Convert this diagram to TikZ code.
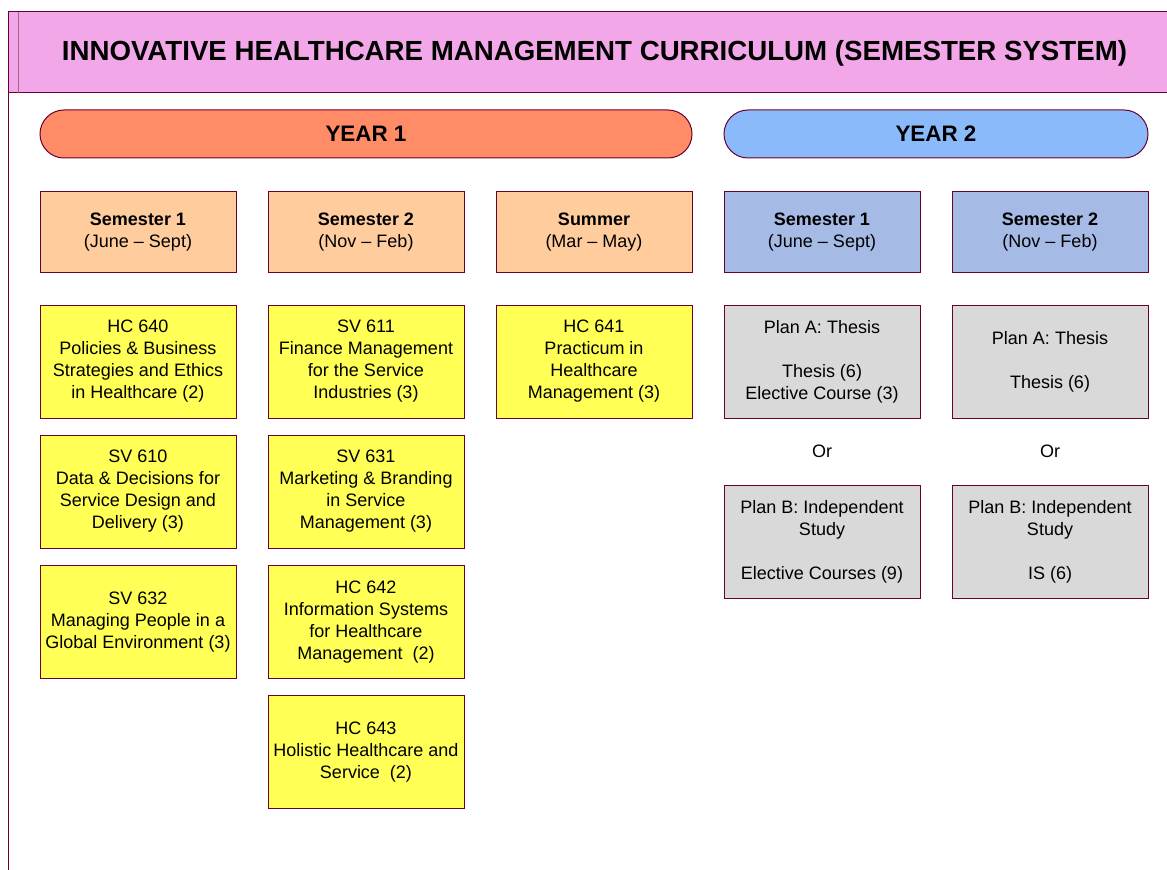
\documentclass[tikz,border=0pt]{standalone}
\usepackage{fontspec}
\setmainfont{Liberation Sans}
\usetikzlibrary{positioning}
\definecolor{rim}{HTML}{6A0030}
\definecolor{titlepink}{HTML}{F2A8E8}
\definecolor{yearorange}{HTML}{FF8C66}
\definecolor{yearblue}{HTML}{8ABAFA}
\definecolor{semorange}{HTML}{FFCC9E}
\definecolor{semblue}{HTML}{A6BAE6}
\definecolor{courseyellow}{HTML}{FFFF55}
\definecolor{plangray}{HTML}{D9D9D9}
\tikzset{
    box/.style={draw=rim, line width=0.75pt, minimum width=147pt, minimum height=84.75pt,
        inner sep=0pt, align=center, font=\fontsize{13.5}{16.5}\selectfont},
    course/.style={box, fill=courseyellow},
    plan/.style={box, fill=plangray},
    sem/.style={box, minimum height=60.75pt},
    year/.style={draw=rim, line width=0.75pt, rounded corners=18pt, minimum height=36pt,
        inner sep=0pt, font=\fontsize{16.8}{18}\selectfont\bfseries}
}

\begin{document}
\begin{tikzpicture}[x=0.75pt, y=-0.75pt]
    \useasboundingbox (0, 0) rectangle (1167, 870);
    % title bar
    \fill[titlepink] (8, 12) rectangle (1167, 93);
    \draw[rim, line width=0.75pt] (1167, 12) -- (8, 12) -- (8, 870);
    \draw[rim, line width=0.75pt] (8, 93) -- (1167, 93);
    \draw[rim!60, line width=0.75pt] (18, 12) -- (18, 93);
    \node[font=\fontsize{20.75}{24}\selectfont\bfseries] (title) at (594.5, 53)
        {INNOVATIVE HEALTHCARE MANAGEMENT CURRICULUM (SEMESTER SYSTEM)};
    % years
    \node[year, fill=yearorange, minimum width=489pt] (yearone) at (366, 134) {YEAR 1};
    \node[year, fill=yearblue, minimum width=318pt] (yeartwo) at (936, 134) {YEAR 2};
    % semesters
    \node[sem, fill=semorange] (semone) at (138, 232) {\textbf{Semester 1}\\(June -- Sept)};
    \node[sem, fill=semorange] (semtwo) at (366, 232) {\textbf{Semester 2}\\(Nov -- Feb)};
    \node[sem, fill=semorange] (summer) at (594, 232) {\textbf{Summer}\\(Mar -- May)};
    \node[sem, fill=semblue] (semthree) at (822, 232) {\textbf{Semester 1}\\(June -- Sept)};
    \node[sem, fill=semblue] (semfour) at (1050, 232) {\textbf{Semester 2}\\(Nov -- Feb)};
    % year 1 courses
    \node[course] (hcsixforty) at (138, 361.5)
        {HC 640\\Policies \& Business\\Strategies and Ethics\\in Healthcare (2)};
    \node[course] (svsixten) at (138, 491.5)
        {SV 610\\Data \& Decisions for\\Service Design and\\Delivery (3)};
    \node[course] (svsixthirtytwo) at (138, 622)
        {SV 632\\Managing People in a\\Global Environment (3)};
    \node[course] (svsixeleven) at (366, 361.5)
        {SV 611\\Finance Management\\for the Service\\Industries (3)};
    \node[course] (svsixthirtyone) at (366, 491.5)
        {SV 631\\Marketing \& Branding\\in Service\\Management (3)};
    \node[course] (hcsixfortytwo) at (366, 622)
        {HC 642\\Information Systems\\for Healthcare\\Management~~(2)};
    \node[course] (hcsixfortythree) at (366, 752)
        {HC 643\\Holistic Healthcare and\\Service~~(2)};
    \node[course] (hcsixfortyone) at (594, 361.5)
        {HC 641\\Practicum in\\Healthcare\\Management (3)};
    % year 2 plans
    \node[plan] (planaone) at (822, 361.5)
        {Plan A: Thesis\\[16.5pt]Thesis (6)\\Elective Course (3)};
    \node[font=\fontsize{13.5}{16.5}\selectfont] (orone) at (822, 451.5) {Or};
    \node[plan] (planbone) at (822, 541.5)
        {Plan B: Independent\\Study\\[16.5pt]Elective Courses (9)};
    \node[plan] (planatwo) at (1050, 361.5)
        {Plan A: Thesis\\[16.5pt]Thesis (6)};
    \node[font=\fontsize{13.5}{16.5}\selectfont] (ortwo) at (1050, 451.5) {Or};
    \node[plan] (planbtwo) at (1050, 541.5)
        {Plan B: Independent\\Study\\[16.5pt]IS (6)};
\end{tikzpicture}
\end{document}
